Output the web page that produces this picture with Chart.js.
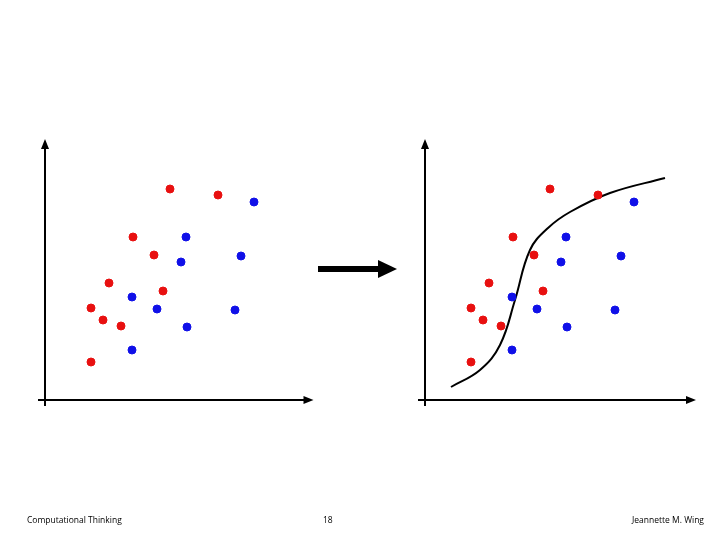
<!DOCTYPE html>
<html><head><meta charset="utf-8">
<script src="https://cdn.jsdelivr.net/npm/chart.js@4"></script>
<style>
body{margin:0;width:720px;height:540px;background:#fff;position:relative;overflow:hidden;font-family:"Open Sans",sans-serif}
canvas{position:absolute;top:0}
.t{position:absolute;top:514px;font-size:8.5px;color:#000}
</style></head><body>
<div style="position:absolute;left:0;top:0;width:360px;height:540px"><canvas id="c1"></canvas></div>
<div style="position:absolute;left:360px;top:0;width:360px;height:540px"><canvas id="c2"></canvas></div>
<div style="position:absolute;left:318px;top:266px;width:62px;height:6px;background:#000"></div>
<div style="position:absolute;left:378px;top:260px;width:0;height:0;border-top:9px solid transparent;border-bottom:9px solid transparent;border-left:19px solid #000"></div>
<div class="t" style="left:27px">Computational Thinking</div>
<div class="t" style="left:323px">18</div>
<div class="t" style="right:16px">Jeannette M. Wing</div>
<script>
const redPts=[[5.0,8.44],[6.92,8.2],[3.52,6.52],[4.36,5.8],[2.56,4.68],[4.72,4.36],[1.84,3.68],[2.32,3.2],[3.04,2.96],[1.84,1.52]];
const bluePts=[[8.36,7.92],[5.64,6.52],[5.44,5.52],[7.84,5.76],[3.48,4.12],[4.48,3.64],[7.6,3.6],[5.68,2.92],[3.48,2.0]];
const curvePts=[[1.04,0.52],[2.2,1.2],[3.0,2.2],[3.6,4.0],[4.2,6.0],[4.92,6.88],[5.8,7.52],[7.4,8.28],[9.6,8.88]];
const toXY=a=>a.map(p=>({x:p[0],y:p[1]}));
const arrows={id:'arrows',afterDraw(c){const a=c.chartArea,x=c.ctx;x.save();x.fillStyle='#000';
x.beginPath();x.moveTo(a.left,a.top-6);x.lineTo(a.left-4,a.top+4);x.lineTo(a.left+4,a.top+4);x.fill();
x.beginPath();x.moveTo(a.right+6,a.bottom);x.lineTo(a.right-4,a.bottom-4);x.lineTo(a.right-4,a.bottom+4);x.fill();
x.lineWidth=2;x.beginPath();x.moveTo(a.left,a.bottom);x.lineTo(a.left,a.bottom+6);x.moveTo(a.left,a.bottom);x.lineTo(a.left-7,a.bottom);x.stroke();x.restore();}};
function make(id,padL,xmax,withCurve){
 const ds=[{data:toXY(redPts),backgroundColor:'#e81010',borderColor:'#e81010',pointRadius:4},
 {data:toXY(bluePts),backgroundColor:'#1010e8',borderColor:'#1010e8',pointRadius:4}];
 if(withCurve)ds.push({type:'line',data:toXY(curvePts),borderColor:'#000',borderWidth:2,pointRadius:0,tension:0.4,fill:false});
 const ax={grid:{display:false,drawTicks:false},ticks:{display:false},border:{display:true,color:'#000',width:2}};
 new Chart(document.getElementById(id),{type:'scatter',data:{datasets:ds},
 options:{responsive:true,maintainAspectRatio:false,animation:false,layout:{padding:{left:padL,top:145,right:360-padL-xmax*25,bottom:140}},
 plugins:{legend:{display:false},tooltip:{enabled:false}},
 scales:{x:{...ax,min:0,max:xmax},y:{...ax,min:0,max:10.2}}},plugins:[arrows]});
}
make('c1',45,10.5,false);
make('c2',65,10.6,true);
</script></body></html>
